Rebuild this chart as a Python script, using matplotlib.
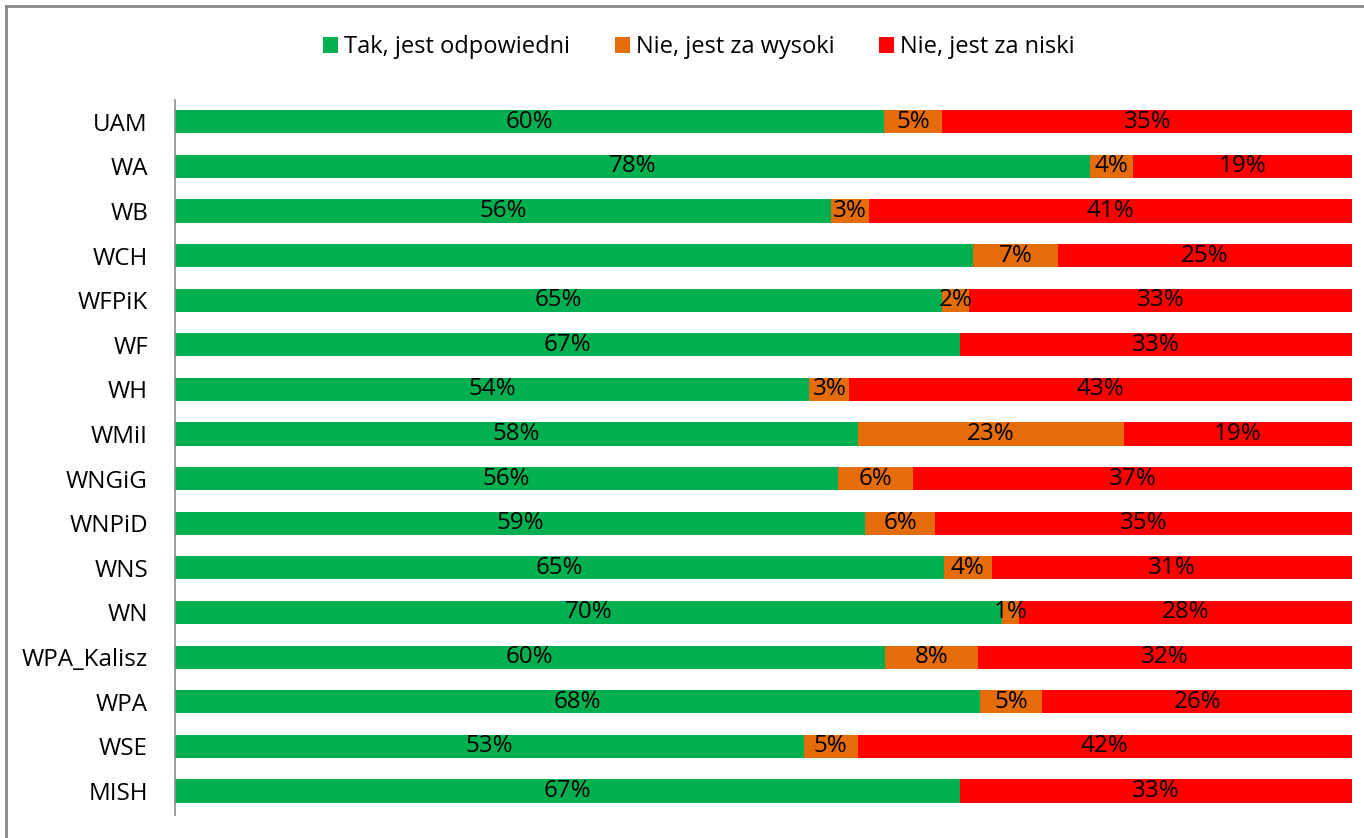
import matplotlib.pyplot as plt
from matplotlib.lines import Line2D

# dane
kategorie = ["UAM", "WA", "WB", "WCH", "WFPiK", "WF", "WH", "WMiI", "WNGiG",
             "WNPiD", "WNS", "WN", "WPA_Kalisz", "WPA", "WSE", "MISH"]
tak = [60.2, 77.7, 55.7, 67.8, 65.2, 66.7, 53.9, 58.0, 56.3, 58.6, 65.3, 70.3, 60.3, 68.4, 53.4, 66.7]
za_wysoki = [5.0, 3.7, 3.3, 7.2, 2.3, 0.0, 3.4, 22.6, 6.4, 6.0, 4.1, 1.4, 7.9, 5.3, 4.6, 0.0]
za_niski = [34.8, 18.6, 41.0, 25.0, 32.5, 33.3, 42.7, 19.4, 37.3, 35.4, 30.6, 28.3, 31.8, 26.3, 42.0, 33.3]

etykiety_tak = ["60%", "78%", "56%", "", "65%", "67%", "54%", "58%", "56%",
                "59%", "65%", "70%", "60%", "68%", "53%", "67%"]
etykiety_wys = ["5%", "4%", "3%", "7%", "2%", "", "3%", "23%", "6%",
                "6%", "4%", "1%", "8%", "5%", "5%", ""]
etykiety_nis = ["35%", "19%", "41%", "25%", "33%", "33%", "43%", "19%", "37%",
                "35%", "31%", "28%", "32%", "26%", "42%", "33%"]

seria = ["Tak, jest odpowiedni", "Nie, jest za wysoki", "Nie, jest za niski"]
kolory = ["#00B050", "#E46C0A", "#FF0000"]

plt.rcParams['font.family'] = ['Open Sans', 'DejaVu Sans']
fs = 17.4

fig = plt.figure(figsize=(13.64, 8.38), dpi=100)
ax = fig.add_axes([175/1364, 1 - 815/838, 1177/1364, 715/838])

y = list(range(len(kategorie)))
suma = [tak[i] + za_wysoki[i] + za_niski[i] for i in y]
t = [tak[i] / suma[i] for i in y]
w = [za_wysoki[i] / suma[i] for i in y]
n = [za_niski[i] / suma[i] for i in y]

h = 0.52
b1 = ax.barh(y, t, height=h, color=kolory[0], label=seria[0])
b2 = ax.barh(y, w, left=t, height=h, color=kolory[1], label=seria[1])
lw = [t[i] + w[i] for i in y]
b3 = ax.barh(y, n, left=lw, height=h, color=kolory[2], label=seria[2])

ax.bar_label(b1, labels=etykiety_tak, label_type='center', fontsize=fs, color='black')
ax.bar_label(b2, labels=etykiety_wys, label_type='center', fontsize=fs, color='black')
ax.bar_label(b3, labels=etykiety_nis, label_type='center', fontsize=fs, color='black')

ax.set_yticks(y)
ax.set_yticklabels(kategorie, fontsize=fs)
ax.set_ylim(15.54, -0.49)
ax.set_xlim(0, 1)
ax.set_xticks([])
ax.tick_params(axis='y', length=0, pad=19.5)
for s in ['top', 'right', 'bottom']:
    ax.spines[s].set_visible(False)
ax.spines['left'].set_color('#8C8C8C')
ax.spines['left'].set_linewidth(1.2)

fig.legend(handles=[b1, b2, b3], labels=seria, loc='center', bbox_to_anchor=(699/1364, 1 - 47/838),
           ncol=3, frameon=False, fontsize=17, handlelength=0.64, handleheight=0.64,
           handletextpad=0.25, columnspacing=1.9)

# ramka wykresu
fig.add_artist(Line2D([6/1364, 6/1364], [0, 1 - 6/838], color='#898989', lw=2))
fig.add_artist(Line2D([6/1364, 1], [1 - 6/838, 1 - 6/838], color='#898989', lw=2))

fig.savefig('out.png', dpi=100)
